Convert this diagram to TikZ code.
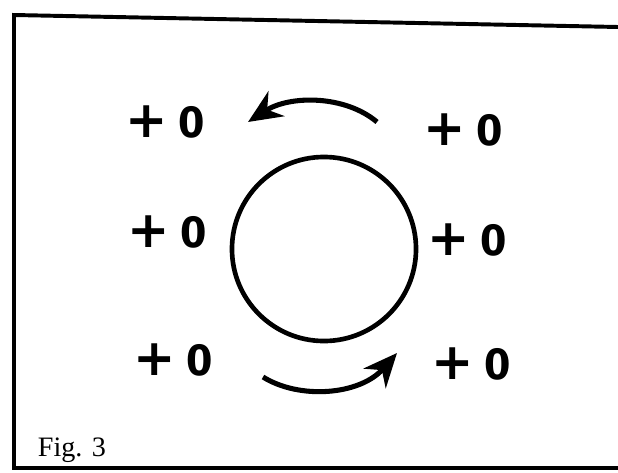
\documentclass[tikz,border=0pt]{standalone}
\usepackage{fontspec}
\setmainfont{Liberation Serif}
\newfontfamily\handfont{Fira Sans}
\newfontfamily\plusfont{DejaVu Sans}
\usepackage{tikz}
\usetikzlibrary{arrows.meta}

\newcommand{\pz}{{\plusfont\bfseries\fontsize{36}{36}\selectfont +}\hspace{8pt}0}

\begin{document}
\begin{tikzpicture}[x=0.025cm, y=-0.025cm,
            frame/.style={draw, line width=2.8pt, black},
            ring/.style={draw, circle, line width=3.3pt, minimum size=4.6cm, inner sep=0pt},
            pluszero/.style={font=\handfont\bfseries\fontsize{32}{34}\selectfont, inner sep=0pt},
            turn/.style={draw, line width=3.6pt, -{Stealth[length=24pt, width=21pt]}}
        ]
            \useasboundingbox (0,0) rectangle (618,473);

            % Frame
            \draw [frame] (618,27) -- (14,15) -- (14,468) -- (618,468);
            \node (fig) at (33,456) [anchor=base west, font=\fontsize{20}{22}\selectfont] {Fig. 3};

            % Circle
            \node (disc) at (324,249) [ring] {};

            % Charges
            \node (tl) at (165,122) [pluszero] {\pz};
            \node (tr) at (463,130) [pluszero] {\pz};
            \node (ml) at (167,232) [pluszero] {\pz};
            \node (mr) at (467,240) [pluszero] {\pz};
            \node (bl) at (173,360) [pluszero] {\pz};
            \node (br) at (471,364) [pluszero] {\pz};

            % Rotation arrows
            \coordinate (upstart) at (377,122);
            \coordinate (upend) at (248,122);
            \coordinate (downstart) at (263,377);
            \coordinate (downend) at (397,353);
            \draw [turn] (upstart) .. controls (345,95) and (290,95) .. (upend);
            \draw [turn] (downstart) .. controls (300,400) and (360,395) .. (downend);
        \end{tikzpicture}
\end{document}
